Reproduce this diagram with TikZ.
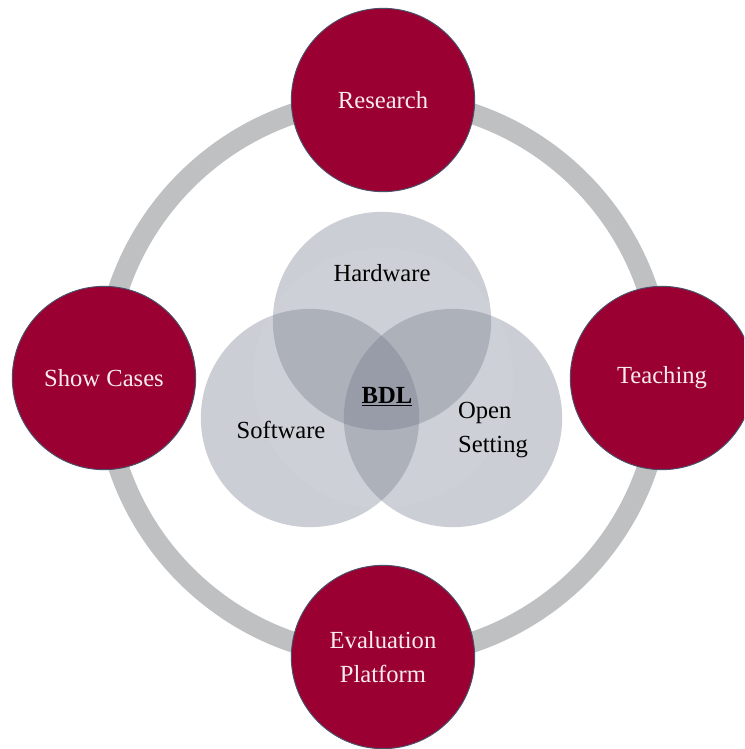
\documentclass[tikz,border=0pt]{standalone}
\usepackage{fontspec}
\setmainfont{Liberation Serif}
\usetikzlibrary{positioning}
\definecolor{crimson}{HTML}{9B0033}
\definecolor{rimline}{HTML}{46536A}
\definecolor{ringgray}{HTML}{BFC0C2}
\definecolor{venngray}{HTML}{626A7C}
\definecolor{labelwhite}{HTML}{F8ECEF}

\tikzset{
  pillar/.style={circle, fill=crimson, draw=rimline, line width=0.8pt,
    minimum size=5.5cm, inner sep=0pt},
  pillartext/.style={text=labelwhite, align=center,
    font=\fontsize{21}{29}\selectfont},
  venn/.style={circle, fill=venngray, fill opacity=0.33, draw=none,
    minimum size=6.55cm, inner sep=0pt},
  venntext/.style={text=black, align=center,
    font=\fontsize{21}{29}\selectfont},
}

\begin{document}
\begin{tikzpicture}[x=0.03cm, y=-0.03cm]

  % --- Frame ---
  \useasboundingbox (0,0) rectangle (744,749);
  \clip (0,0) rectangle (744,749);

  % --- Outer ring ---
  \coordinate (hub) at (383,378);
  \draw[ringgray, line width=0.62cm] (hub) circle (279);

  % --- Venn core ---
  \node[venn] (hw) at (382,321) {};
  \node[venn] (sw) at (310,418) {};
  \node[venn] (os) at (453,418) {};
  \fill[white, opacity=0.05] (hub) circle (130);

  \node[venntext] (hwlabel) at (382,273) {Hardware};
  \node[venntext] (swlabel) at (281,430) {Software};
  \node[venntext, align=left] (oslabel) at (493,430) {Open\\Setting};
  \node[venntext, font=\fontsize{21}{29}\selectfont\bfseries] (bdl) at (387,397)
    {\underline{BDL}};

  % --- Four pillars on the ring ---
  \node[pillar] (research) at (383,100) {};
  \node[pillar] (showcases) at (104,378) {};
  \node[pillar] (teaching) at (662,378) {};
  \node[pillar] (evaluation) at (383,657) {};

  \node[pillartext] at (research) {Research};
  \node[pillartext] at (showcases) {Show Cases};
  \node[pillartext] at (teaching) {Teaching};
  \node[pillartext] at (evaluation) {Evaluation\\Platform};

\end{tikzpicture}
\end{document}
